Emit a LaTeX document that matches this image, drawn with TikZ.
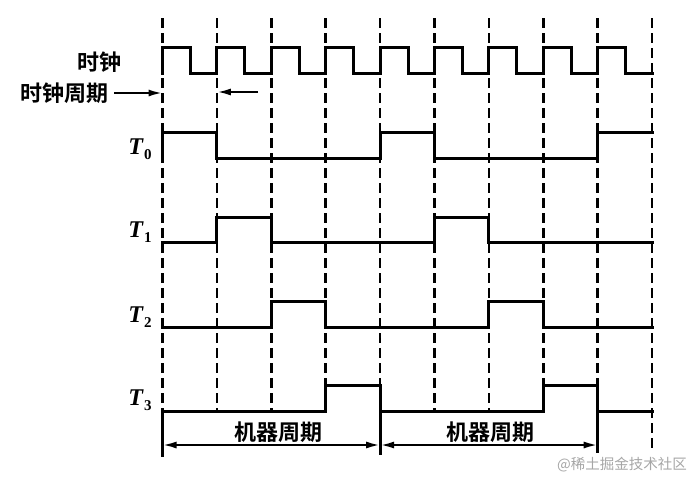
\documentclass[tikz,border=0pt]{standalone}
\usepackage{fontspec}
\setmainfont{Liberation Serif}
\newfontfamily\cjk{Noto Sans CJK SC}[BoldFont={Noto Sans CJK SC Bold}]
\usetikzlibrary{arrows.meta}
\newcommand\Tsig[1]{\textbf{\textit{T}}\kern0.5pt\raisebox{-5pt}{\bfseries\upshape\fontsize{15}{15}\selectfont #1}}
\begin{document}
\begin{tikzpicture}[x=1pt,y=-1pt,
  sig/.style={line width=3pt, line join=miter, line cap=rect},
  gridline/.style={line width=2.6pt, dash pattern=on 10pt off 5pt},
  bar/.style={line width=2.8pt},
  lab/.style={font=\cjk\bfseries\fontsize{22}{22}\selectfont, inner sep=0pt},
  tlab/.style={font=\fontsize{24}{24}\selectfont, inner sep=0pt},
  arr/.style={line width=2.2pt, -{Latex[length=14pt,width=7pt]}},
  darr/.style={line width=2.2pt, {Latex[length=14pt,width=7pt]}-{Latex[length=14pt,width=7pt]}},
]
\useasboundingbox (0,0) rectangle (692,477);

% dashed grid lines
\foreach \x in {162.5,216.9,271.3,325.7,380.1,434.5,488.9,543.3,597.7}
  \draw[gridline] (\x,18) -- (\x,411);
\draw[gridline] (652.1,18) -- (652.1,452);

% solid bars for machine cycle
\draw[bar] (162.5,409) -- (162.5,457);
\draw[bar] (380.1,411) -- (380.1,455);
\draw[bar] (597.7,411) -- (597.7,453);

% clock
\draw[sig] (162.5,73)
  \foreach \i in {0,...,8} { -- ({162.5+54.4*\i},47) -- ({190.5+54.4*\i},47) -- ({190.5+54.4*\i},73) -- ({216.9+54.4*\i},73) };

% T0
\draw[sig] (162.5,158) -- (162.5,132) -- (216.9,132) -- (216.9,158) -- (380.1,158) -- (380.1,132)
  -- (434.5,132) -- (434.5,158) -- (597.7,158) -- (597.7,132) -- (652.1,132);
% T1
\draw[sig] (162.5,242) -- (216.9,242) -- (216.9,217) -- (271.3,217) -- (271.3,242) -- (434.5,242)
  -- (434.5,217) -- (488.9,217) -- (488.9,242) -- (652.1,242);
% T2
\draw[sig] (162.5,327) -- (271.3,327) -- (271.3,301) -- (325.7,301) -- (325.7,327) -- (488.9,327)
  -- (488.9,301) -- (543.3,301) -- (543.3,327) -- (652.1,327);
% T3
\draw[sig] (162.5,411) -- (325.7,411) -- (325.7,385) -- (380.1,385) -- (380.1,411) -- (543.3,411)
  -- (543.3,385) -- (597.7,385) -- (597.7,411) -- (652.1,411);

% labels
\node[lab, anchor=east] (clk) at (122,62) {时钟};
\node[lab, anchor=west] (period) at (20,93) {时钟周期};
\node[tlab] (t0) at (140,149) {\Tsig{0}};
\node[tlab] (t1) at (140,232) {\Tsig{1}};
\node[tlab] (t2) at (140,317) {\Tsig{2}};
\node[tlab] (t3) at (140,400) {\Tsig{3}};

% clock period arrows
\coordinate (pa) at (114,93);
\coordinate (pb) at (162.5,93);
\coordinate (pc) at (258,92);
\coordinate (pd) at (216.9,92);
\draw[arr] (pa) -- (pb);
\draw[arr] (pc) -- (pd);

% machine cycles
\node[lab] (m1) at (278,432) {机器周期};
\node[lab] (m2) at (490,432) {机器周期};
\coordinate (a0) at (162.5,445);
\coordinate (a1) at (380.1,445);
\coordinate (a2) at (597.7,445);
\draw[darr] (a0) -- (a1);
\draw[darr] (a1) -- (a2);

% watermark
\node[font=\cjk\fontsize{14.5}{14.5}\selectfont, text=black!35, anchor=east, inner sep=0pt] (wm) at (687,465) {@稀土掘金技术社区};
\end{tikzpicture}
\end{document}
